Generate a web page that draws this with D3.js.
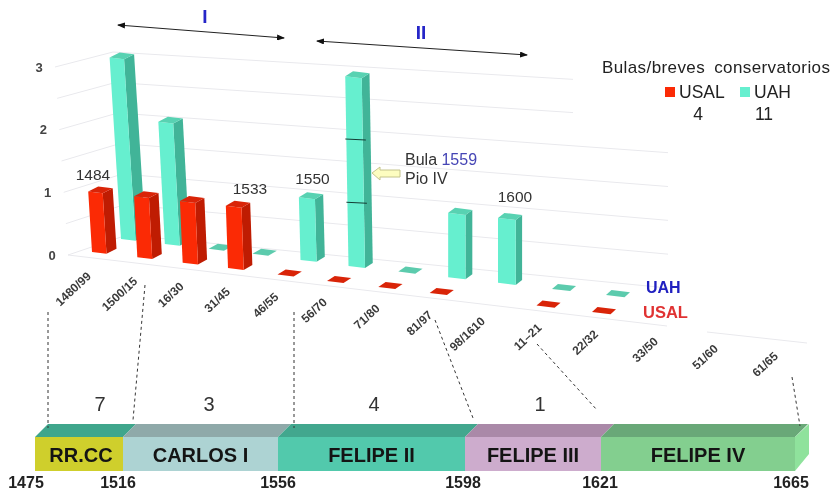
<!DOCTYPE html>
<html>
<head>
<meta charset="utf-8">
<style>
  html, body { margin: 0; padding: 0; background: #fff; }
  svg { display: block; filter: blur(0.5px); }
  text { font-family: "Liberation Sans", Arial, sans-serif; }
</style>
<script src="https://cdn.jsdelivr.net/npm/d3@7"></script>
</head>
<body>
<div id="chart-area"></div>
<script>
const periods = ["1480/99", "1500/15", "16/30", "31/45", "46/55", "56/70", "71/80",
    "81/97", "98/1610", "11–21", "22/32", "33/50", "51/60", "61/65"];
const uah = [3, 2, 0, 0, 1, 3, 0, 1, 1, 0, 0, null, null, null];
const usal = [1, 1, 1, 1, 0, 0, 0, 0, null, 0, 0, null, null, null];
const valueTicks = [0, 1, 2, 3];
const gridValues = [0, 0.5, 1, 1.5, 2, 2.5, 3];

const barYears = ["1484", "1533", "1550", "1600"];
const barYearIndex = [0, 3, 4, 8];
const barYearSeries = ["usal", "usal", "uah", "uah"];

const reigns = ["RR.CC", "CARLOS I", "FELIPE II", "FELIPE III", "FELIPE IV"];
const reignYears = [1475, 1516, 1556, 1598, 1621, 1665];
const reignCounts = [7, 3, 4, 1, null];
const reignFront = ["#cfcf2c", "#add3d3", "#52c9ac", "#cdaccd", "#83cf8f"];
const reignTop = ["#3fa68c", "#8fa9a9", "#42a78e", "#aa89a8", "#69a878"];

const width = 834;
const height = 491;

const svg = d3.select("#chart-area")
    .append("svg")
    .attr("width", width)
    .attr("height", height);

// oblique projection of the 3D chart, everything is a function of the category index
const knots = [0, 3, 5, 8, 10, 13];
const floorX = d3.scaleLinear().domain(knots).range([92, 228, 327, 481, 592, 775]);
const floorY = d3.scaleLinear().domain(knots).range([252, 268, 281, 299, 312, 328]);
const depthX = d3.scaleLinear().domain([0, 10]).range([29, 14]);
const depthY = d3.scaleLinear().domain([0, 10]).range([-13, -17]);
const unit = d3.scaleLinear().domain([0, 10]).range([60.5, 66]);
const lean = d3.scaleLinear().domain([0, 7]).range([3.8, 0]).clamp(true);
const barW = d3.scaleLinear().domain([0, 10]).range([14.5, 18.5]);
const sideW = d3.scaleLinear().domain([0, 10]).range([10, 5.5]);

const wallLeftX = d3.scaleLinear().domain([0, 3]).range([127, 113]);
const wallLeftY = d3.scaleLinear().domain([0, 3]).range([235, 52]);
const wallRightY = d3.scaleLinear().domain([0, 3]).range([288, 85]);
const sideLeftX = d3.scaleLinear().domain([0, 3]).range([68, 55]);
const sideLeftY = d3.scaleLinear().domain([0, 3]).range([255, 67]);
const tickX = d3.scaleLinear().domain([0, 3]).range([52, 39]);

const labelX = d3.scaleLinear().domain(knots).range([89, 228, 325, 483, 596, 776]);
const labelY = d3.scaleLinear().domain([0, 5, 10, 13]).range([274, 300, 332, 354]);

const timeX = d3.scaleLinear().domain(reignYears).range([35, 123, 278, 465, 601, 795]);
const timeTop = 424;
const timeFront = 437;
const timeBottom = 471;
const timeDepth = 13;

const poly = (pts) => "M" + pts.map((p) => p.join(",")).join("L") + "Z";

// grid
const grid = svg.append("g")
    .attr("fill", "none")
    .attr("stroke", "#e9e9ed")
    .attr("stroke-width", 1);

gridValues.forEach((v) => {
    const endX = v >= 2.5 ? 573 : 668;
    const rightY = wallLeftY(v) + (wallRightY(v) - wallLeftY(v)) * (endX - wallLeftX(v)) / (668 - wallLeftX(v));
    grid.append("path").attr("d", d3.line()([
        [sideLeftX(v), sideLeftY(v)],
        [wallLeftX(v), wallLeftY(v)],
        [endX, rightY]
    ]));
});
grid.append("path").attr("d", d3.line()([[68, 255], [667, 326]]));
grid.append("path").attr("d", d3.line()([[707, 332], [807, 343]]));

// value ticks
svg.append("g").selectAll("text").data(valueTicks).enter()
    .append("text")
    .attr("x", (d) => tickX(d))
    .attr("y", (d) => sideLeftY(d) + 4.5)
    .attr("text-anchor", "middle")
    .attr("font-size", 13)
    .attr("font-weight", "bold")
    .attr("fill", "#444")
    .text((d) => d);

const colors = {
    uah: { front: "#66efcf", side: "#41b498", top: "#58d2b2" },
    usal: { front: "#fb2a05", side: "#bf1c02", top: "#d92408" }
};

const drawBars = (values, series) => {
    const col = colors[series];
    const g = svg.append("g").attr("class", series);
    values.forEach((v, i) => {
        if (v === null) return;
        const off = series === "uah" ? [depthX(i), depthY(i)] : [0, 0];
        const x0 = floorX(i) + off[0];
        const y0 = floorY(i) + off[1];
        const w = barW(i);
        const s = sideW(i);
        const slope = 0.12;
        const h = v * unit(i);
        const shift = v * lean(i);
        const bl = [x0, y0];
        const br = [x0 + w, y0 + w * slope];
        const tl = [x0 - shift, y0 - h];
        const tr = [x0 - shift + w, y0 - h + w * slope];
        if (v > 0) {
            g.append("path").attr("fill", col.side)
                .attr("d", poly([br, [br[0] + s, br[1] - 5], [tr[0] + s, tr[1] - 5], tr]));
            g.append("path").attr("fill", col.front)
                .attr("d", poly([bl, br, tr, tl]));
        }
        g.append("path").attr("fill", v > 0 ? col.top : (series === "uah" ? "#5ccbad" : "#d92408"))
            .attr("d", poly([tl, tr, [tr[0] + s, tr[1] - 5], [tl[0] + s, tl[1] - 5]]));
        // stacked bulls are split with a thin line
        if (series === "uah" && v === 3 && i === 5) {
            d3.range(1, v).forEach((k) => {
                const yk = y0 - k * unit(i);
                const xk = x0 - k * lean(i);
                g.append("line")
                    .attr("x1", xk - 1).attr("x2", xk + w + 3)
                    .attr("y1", yk - 0.5).attr("y2", yk + 0.5)
                    .attr("stroke", "#143c34").attr("stroke-width", 1);
            });
        }
    });
};
drawBars(uah, "uah");
drawBars(usal, "usal");

// period labels
svg.append("g").selectAll("text").data(periods).enter()
    .append("text")
    .attr("transform", (d, i) => "translate(" + labelX(i) + "," + labelY(i) + ") rotate(-43)")
    .attr("text-anchor", "end")
    .attr("dy", "0.35em")
    .attr("font-size", 12)
    .attr("font-weight", "bold")
    .attr("fill", "#3a3a3a")
    .text((d) => d);

// years over some bars
const yearDx = [1, 22, 12, 17];
const yearDy = [12, 12, 13, 16];
svg.append("g").selectAll("text").data(barYears).enter()
    .append("text")
    .attr("x", (d, i) => {
        const k = barYearIndex[i];
        const off = barYearSeries[i] === "uah" ? depthX(k) : 0;
        return floorX(k) + off + yearDx[i];
    })
    .attr("y", (d, i) => {
        const k = barYearIndex[i];
        const series = barYearSeries[i];
        const v = series === "uah" ? uah[k] : usal[k];
        const off = series === "uah" ? depthY(k) : 0;
        return floorY(k) + off - v * unit(k) - yearDy[i];
    })
    .attr("text-anchor", "middle")
    .attr("font-size", 15.5)
    .attr("fill", "#333")
    .text((d) => d);

// arrows I and II
const defs = svg.append("defs");
defs.append("marker")
    .attr("id", "head")
    .attr("viewBox", "0 0 8 6")
    .attr("refX", 7).attr("refY", 3)
    .attr("markerWidth", 8).attr("markerHeight", 6)
    .attr("markerUnits", "userSpaceOnUse")
    .attr("orient", "auto-start-reverse")
    .append("path").attr("d", "M0,0L8,3L0,6Z").attr("fill", "#111");

const arrows = [
    { a: [118, 25], b: [284, 38], label: "I", lx: 205, ly: 23 },
    { a: [317, 41], b: [527, 55], label: "II", lx: 421, ly: 39 }
];
arrows.forEach((d) => {
    svg.append("line")
        .attr("x1", d.a[0]).attr("y1", d.a[1])
        .attr("x2", d.b[0]).attr("y2", d.b[1])
        .attr("stroke", "#222").attr("stroke-width", 1)
        .attr("marker-start", "url(#head)")
        .attr("marker-end", "url(#head)");
    svg.append("text")
        .attr("x", d.lx).attr("y", d.ly)
        .attr("text-anchor", "middle")
        .attr("font-size", 19)
        .attr("font-weight", "bold")
        .attr("fill", "#2626c8")
        .text(d.label);
});

// callout for the 1559 bull
svg.append("path")
    .attr("d", poly([[372, 173], [380, 167], [380, 170], [400, 170], [400, 177], [380, 177], [380, 180]]))
    .attr("fill", "#fdfdc0")
    .attr("stroke", "#c4c48c")
    .attr("stroke-width", 1);
const bula = svg.append("text").attr("x", 405).attr("y", 165).attr("font-size", 16).attr("fill", "#333");
bula.append("tspan").text("Bula ");
bula.append("tspan").attr("fill", "#4545b5").text("1559");
svg.append("text").attr("x", 405).attr("y", 184).attr("font-size", 16).attr("fill", "#333").text("Pio IV");

// legend
svg.append("text").attr("x", 602).attr("y", 73)
    .attr("font-size", 17).attr("word-spacing", 4).attr("letter-spacing", 0.4)
    .attr("fill", "#222").text("Bulas/breves conservatorios");
const legendItems = [
    { name: "USAL", count: 4, color: colors.usal.front, sx: 665, cx: 698 },
    { name: "UAH", count: 11, color: colors.uah.front, sx: 740, cx: 764 }
];
legendItems.forEach((d) => {
    svg.append("rect").attr("x", d.sx).attr("y", 87).attr("width", 10).attr("height", 10).attr("fill", d.color);
    svg.append("text").attr("x", d.sx + 14).attr("y", 98).attr("font-size", 17.5).attr("fill", "#222").text(d.name);
    svg.append("text").attr("x", d.cx).attr("y", 120).attr("text-anchor", "middle")
        .attr("font-size", 17.5).attr("fill", "#222").text(d.count);
});
svg.append("text").attr("x", 646).attr("y", 293).attr("font-size", 16).attr("font-weight", "bold")
    .attr("fill", "#2020c0").text("UAH");
svg.append("text").attr("x", 643).attr("y", 318).attr("font-size", 16.5).attr("font-weight", "bold")
    .attr("fill", "#e03232").text("USAL");

// reign timeline
const countX = [100, 209, 374, 540];
const yearLabelDx = [-9, -5, 0, -2, -1, -4];
const tl = svg.append("g");
reigns.forEach((name, i) => {
    const x0 = timeX(reignYears[i]);
    const x1 = timeX(reignYears[i + 1]);
    tl.append("path").attr("fill", reignTop[i])
        .attr("d", poly([[x0, timeFront], [x1, timeFront], [x1 + timeDepth, timeTop], [x0 + timeDepth, timeTop]]));
    tl.append("rect")
        .attr("x", x0).attr("y", timeFront)
        .attr("width", x1 - x0).attr("height", timeBottom - timeFront)
        .attr("fill", reignFront[i]);
    tl.append("text")
        .attr("x", (x0 + x1) / 2 + (i === 0 ? 2 : 0)).attr("y", timeFront + 24.5)
        .attr("text-anchor", "middle")
        .attr("font-size", 20).attr("font-weight", "bold")
        .attr("fill", "#141414")
        .text(name);
    if (reignCounts[i] !== null) {
        tl.append("text")
            .attr("x", countX[i]).attr("y", 411)
            .attr("text-anchor", "middle")
            .attr("font-size", 20).attr("fill", "#333")
            .text(reignCounts[i]);
    }
});
const tEnd = timeX(reignYears[reignYears.length - 1]);
tl.append("path").attr("fill", "#8fe29c")
    .attr("d", poly([[tEnd, timeFront], [tEnd + timeDepth + 1, timeTop], [tEnd + timeDepth + 1, timeBottom - 17], [tEnd, timeBottom]]));
tl.selectAll("text.year").data(reignYears).enter()
    .append("text")
    .attr("class", "year")
    .attr("x", (d, i) => timeX(d) + yearLabelDx[i])
    .attr("y", 488)
    .attr("text-anchor", "middle")
    .attr("font-size", 16).attr("font-weight", "bold")
    .attr("fill", "#222")
    .text((d) => d);

// dashed guides from the period axis down to the timeline
const guides = [
    [[48, 312], [48, 428]],
    [[145, 285], [133, 420]],
    [[294, 312], [294, 428]],
    [[435, 320], [473, 418]],
    [[537, 344], [597, 410]],
    [[792, 377], [800, 426]]
];
svg.append("g").selectAll("path").data(guides).enter()
    .append("path")
    .attr("d", (d) => d3.line()(d))
    .attr("stroke", "#333")
    .attr("stroke-width", 1)
    .attr("stroke-dasharray", "3,3")
    .attr("fill", "none");
</script>
</body>
</html>
